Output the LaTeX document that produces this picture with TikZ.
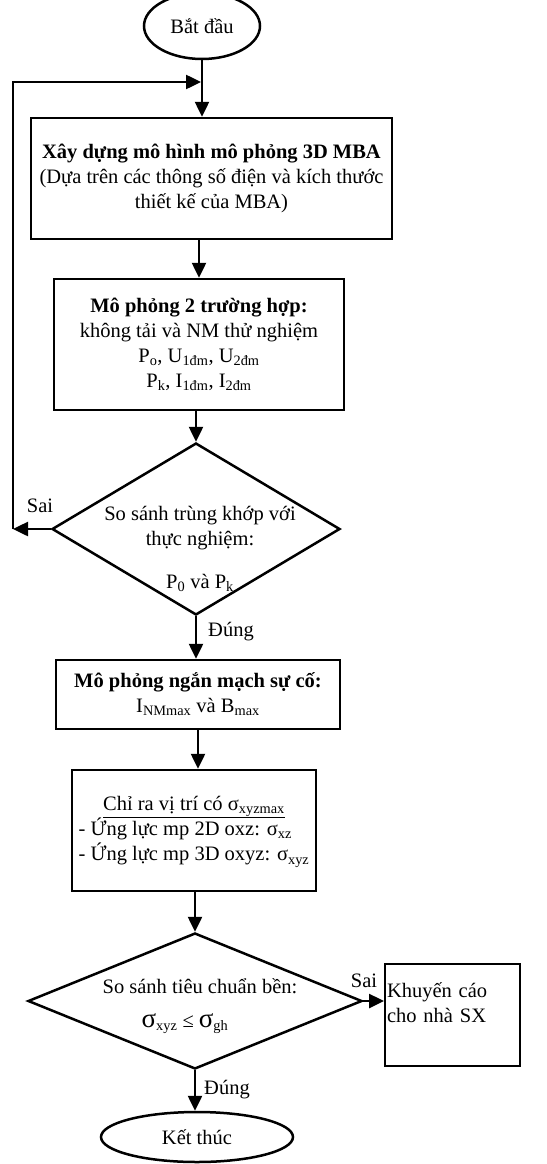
\documentclass[tikz,border=0pt]{standalone}
\usepackage{fontspec}
\setmainfont{Liberation Serif}
\usetikzlibrary{shapes.geometric,arrows.meta}

\begin{document}
\begin{tikzpicture}[x=1pt,y=-1pt,
        line width=2.5pt,
        font=\fontsize{20.5}{25}\selectfont,
        box/.style={rectangle, draw, align=center, inner sep=0pt},
        term/.style={ellipse, draw, inner sep=0pt},
        dec/.style={diamond, draw, inner sep=0pt},
        txt/.style={inner sep=0pt, align=center},
        arr/.style={-{Triangle[length=15pt,width=14pt]}}]
    \useasboundingbox (0,0) rectangle (546,1164);
    \node[term, minimum width=116, minimum height=66] (start) at (202,26) {Bắt đầu};
    \node[box, minimum width=361, minimum height=121] (model) at (211.5,178.5)
        {\textbf{Xây dựng mô hình mô phỏng 3D MBA}\\(Dựa trên các thông số điện và kích thước\\thiết kế của MBA)};
    \node[box, minimum width=290, minimum height=131] (sim) at (199,344.5)
        {\textbf{Mô phỏng 2 trường hợp:}\\không tải và NM thử nghiệm\\
         P\textsubscript{o}, U\textsubscript{1đm}, U\textsubscript{2đm}\\
         P\textsubscript{k}, I\textsubscript{1đm}, I\textsubscript{2đm}};
    \node[dec, minimum width=288, minimum height=172] (cmp1) at (196,529) {};
    \node[txt] (cmp1txt) at (200,549)
        {So sánh trùng khớp với\\thực nghiệm:\hspace*{36pt}\\[18pt]P\textsubscript{0} và P\textsubscript{k}};
    \node[box, minimum width=284, minimum height=69] (short) at (198,694.5)
        {\textbf{Mô phỏng ngắn mạch sự cố:}\\I\textsubscript{NMmax} và B\textsubscript{max}};
    \node[box, minimum width=244, minimum height=121] (stress) at (194,830.5)
        {\begin{tabular}{@{}l@{}}
         \multicolumn{1}{c}{\underline{Chỉ ra vị trí có σ\textsubscript{xyzmax}}}\\
         - Ứng lực mp 2D oxz: σ\textsubscript{xz}\\
         - Ứng lực mp 3D oxyz: σ\textsubscript{xyz}
         \end{tabular}};
    \node[dec, minimum width=334, minimum height=136] (cmp2) at (195,1001) {};
    \node[txt] (cmp2txt) at (200,1006)
        {So sánh tiêu chuẩn bền:\\[9pt]{\fontsize{27}{25}\selectfont σ}\textsubscript{xyz} ≤ {\fontsize{27}{25}\selectfont σ}\textsubscript{gh}\hspace*{30pt}};
    \node[box, line width=2pt, minimum width=135, minimum height=102, text width=131, align=left, inner xsep=2pt]
        (advice) at (452.5,1015) {Khuyến cáo\\cho nhà SX\\\mbox{}};
    \node[term, minimum width=192, minimum height=50] (stop) at (197,1137) {Kết thúc};
    % nhanh
    \node[txt] (no1) at (40,506) {Sai};
    \node[txt] (yes1) at (231,632) {Đúng};
    \node[txt] (no2) at (364,981) {Sai};
    \node[txt] (yes2) at (227,1090) {Đúng};
    \coordinate (back) at (13,529);
    \coordinate (join) at (201,82);
    \draw[arr] (start) -- (start |- model.north);
    \draw[arr] (model.south -| sim.north) -- (sim.north);
    \draw[arr] (sim.south -| cmp1.north) -- (cmp1.north);
    \draw[arr] (cmp1.south) -- (cmp1.south |- short.north);
    \draw[arr] (short.south) -- (short.south |- stress.north);
    \draw[arr] (stress.south -| cmp2.north) -- (cmp2.north);
    \draw[arr] (cmp2.east) -- (cmp2.east -| advice.west);
    \draw[arr] (cmp2.south) -- (cmp2.south |- stop.north);
    \draw[arr] (cmp1.west) -- (back);
    \draw[arr] (back) |- (join);
\end{tikzpicture}
\end{document}
